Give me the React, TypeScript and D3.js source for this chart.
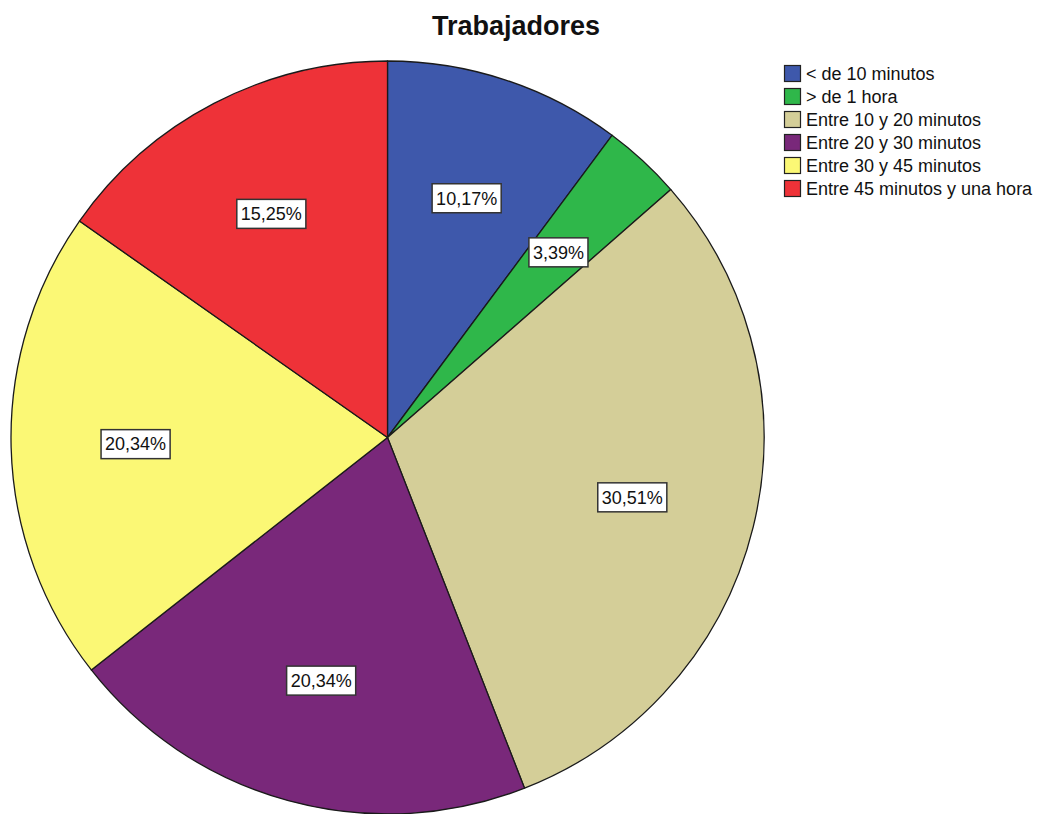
import React, { useEffect, useRef } from "react";
import * as d3 from "d3";

const title = "Trabajadores";
const categories = [
  "< de 10 minutos",
  "> de 1 hora",
  "Entre 10 y 20 minutos",
  "Entre 20 y 30 minutos",
  "Entre 30 y 45 minutos",
  "Entre 45 minutos y una hora",
];
const values = [10.17, 3.39, 30.51, 20.34, 20.34, 15.25];
const labels = ["10,17%", "3,39%", "30,51%", "20,34%", "20,34%", "15,25%"];
const colors = ["#3E58AB", "#2FB74A", "#D4CE98", "#79287A", "#FBF875", "#EE3238"];

export default function App() {
  const ref = useRef<SVGSVGElement>(null);
  useEffect(() => {
    const svg = d3.select(ref.current);
    svg.selectAll("*").remove();
    const cx = 387.5, cy = 437.5, r = 376.5;
    const font = "Arial, 'Liberation Sans', sans-serif";

    svg.append("text")
      .attr("x", 516).attr("y", 35)
      .attr("text-anchor", "middle")
      .attr("font-family", font)
      .attr("font-weight", "bold")
      .attr("font-size", 27)
      .attr("fill", "#111")
      .text(title);

    const data = categories.map((c, i) => ({ c, v: values[i], l: labels[i], col: colors[i] }));
    const pie = d3.pie<any>().value((d) => d.v).sort(null);
    const arcs = pie(data);
    const arc = d3.arc<any>().innerRadius(0).outerRadius(r);
    const labelArc = d3.arc<any>().innerRadius(252).outerRadius(252);

    const g = svg.append("g").attr("transform", `translate(${cx},${cy})`);
    g.selectAll("path.slice").data(arcs).enter().append("path")
      .attr("class", "slice")
      .attr("d", arc as any)
      .attr("fill", (d: any) => d.data.col)
      .attr("stroke", "#1a1a1a")
      .attr("stroke-width", 1.3)
      .attr("stroke-linejoin", "round");

    const lg = g.selectAll("g.lab").data(arcs).enter().append("g")
      .attr("class", "lab")
      .attr("transform", (d: any) => {
        const [x, y] = labelArc.centroid(d);
        return `translate(${x},${y})`;
      });
    lg.each(function (d: any) {
      const gg = d3.select(this);
      const t = gg.append("text")
        .attr("text-anchor", "middle")
        .attr("dy", "0.35em")
        .attr("font-family", font)
        .attr("font-size", 18)
        .attr("fill", "#111")
        .text(d.data.l);
      const bb = (t.node() as SVGTextElement).getBBox();
      gg.insert("rect", "text")
        .attr("x", bb.x - 4).attr("y", -14.5)
        .attr("width", bb.width + 8).attr("height", 29)
        .attr("fill", "#fff")
        .attr("stroke", "#333")
        .attr("stroke-width", 1.5);
    });

    const leg = svg.append("g").attr("transform", "translate(784,65)");
    const rows = leg.selectAll("g").data(data).enter().append("g")
      .attr("transform", (_d, i) => `translate(0,${i * 23})`);
    rows.append("rect")
      .attr("x", 0.5).attr("y", 0.5).attr("width", 16).attr("height", 16)
      .attr("fill", (d) => d.col)
      .attr("stroke", "#222").attr("stroke-width", 1.2);
    rows.append("text")
      .attr("x", 22).attr("y", 9).attr("dy", "0.35em")
      .attr("font-family", font).attr("font-size", 18).attr("fill", "#111")
      .text((d) => d.c);
  }, []);
  return (
    <div style={{ position: "absolute", left: 0, top: 0 }}>
      <svg ref={ref} width={1044} height={814} style={{ display: "block", background: "#fff" }} />
    </div>
  );
}
